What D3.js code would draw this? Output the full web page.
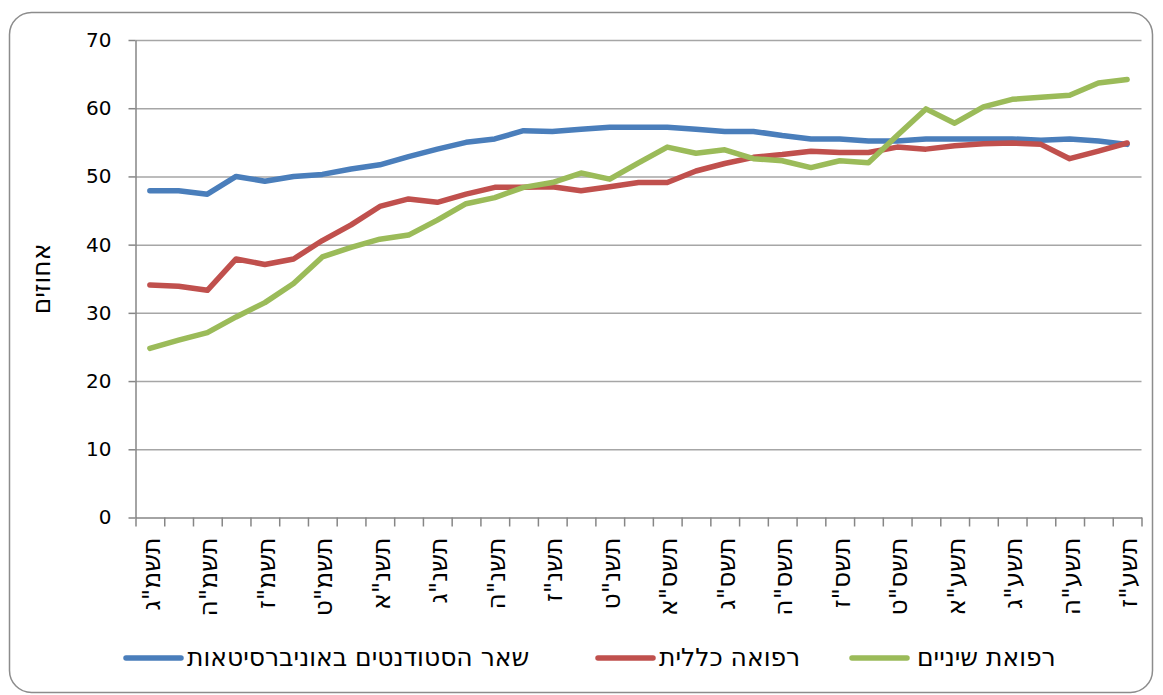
<!DOCTYPE html>
<html>
<head>
<meta charset="utf-8">
<script src="https://cdnjs.cloudflare.com/ajax/libs/d3/7.8.5/d3.min.js"></script>
<style>
  body { margin: 0; background: #fff; }
  svg { display: block; font-family: "DejaVu Sans", sans-serif; }
  .axis path, .axis line { stroke: #868686; stroke-width: 1.5; }
  .grid line { stroke: #A6A6A6; stroke-width: 1.5; }
  .grid path { display: none; }
</style>
</head>
<body>
<div id="chart"></div>
<script>
// school years (Hebrew calendar), first to last
var years = ['תשמ"ג','תשמ"ד','תשמ"ה','תשמ"ו','תשמ"ז','תשמ"ח','תשמ"ט','תש"ן','תשנ"א','תשנ"ב',
  'תשנ"ג','תשנ"ד','תשנ"ה','תשנ"ו','תשנ"ז','תשנ"ח','תשנ"ט','תש"ס','תשס"א','תשס"ב',
  'תשס"ג','תשס"ד','תשס"ה','תשס"ו','תשס"ז','תשס"ח','תשס"ט','תש"ע','תשע"א','תשע"ב',
  'תשע"ג','תשע"ד','תשע"ה','תשע"ו','תשע"ז'];

var otherStudents = [47.9, 47.9, 47.4, 50.0, 49.3, 50.0, 50.3, 51.1, 51.7, 52.9,
  54.0, 55.0, 55.5, 56.7, 56.6, 56.9, 57.2, 57.2, 57.2, 56.9,
  56.6, 56.6, 56.0, 55.5, 55.5, 55.2, 55.2, 55.5, 55.5, 55.5,
  55.5, 55.3, 55.5, 55.2, 54.7];
var medicine = [34.1, 33.9, 33.3, 37.9, 37.1, 37.9, 40.6, 42.9, 45.6, 46.7,
  46.2, 47.4, 48.4, 48.4, 48.5, 47.9, 48.5, 49.1, 49.1, 50.8,
  51.9, 52.8, 53.2, 53.7, 53.5, 53.5, 54.3, 54.0, 54.5, 54.8,
  54.9, 54.7, 52.6, 53.7, 54.9];
var dentistry = [24.8, 26.0, 27.1, 29.4, 31.5, 34.3, 38.2, 39.6, 40.8, 41.4,
  43.6, 46.0, 46.9, 48.4, 49.1, 50.5, 49.6, 52.0, 54.3, 53.4,
  53.9, 52.6, 52.3, 51.3, 52.3, 52.0, 56.0, 59.9, 57.8, 60.2,
  61.3, 61.6, 61.9, 63.7, 64.2];

var seriesNames = ['שאר הסטודנטים באוניברסיטאות', 'רפואה כללית', 'רפואת שיניים'];
var seriesColors = ['#4A7EBB', '#C0504D', '#9BBB59'];
var yTicks = [0, 10, 20, 30, 40, 50, 60, 70];
var yTitle = 'אחוזים';

(function() {
  var series = [otherStudents, medicine, dentistry].map(function(v, i) {
    return { name: seriesNames[i], color: seriesColors[i], values: v };
  });

  var width = 1163, height = 695;
  var margin = { left: 135.5, right: 1141.5, top: 40, bottom: 517.5 };
  var hebSize = '25px';

  var svg = d3.select('#chart').append('svg')
    .attr('width', width)
    .attr('height', height);

  // outer frame
  svg.append('rect')
    .attr('x', 9.5).attr('y', 12.5)
    .attr('width', 1143).attr('height', 680)
    .attr('rx', 22).attr('ry', 22)
    .attr('fill', '#fff')
    .attr('stroke', '#8C8C8C')
    .attr('stroke-width', 1.5);

  var x = d3.scaleBand().domain(years).range([margin.left, margin.right]).padding(0);
  var xTick = d3.scaleLinear().domain([0, years.length]).range([margin.left, margin.right]);
  var y = d3.scaleLinear().domain([0, 70]).range([margin.bottom, margin.top]);

  // gridlines
  svg.append('g')
    .attr('class', 'grid')
    .attr('transform', 'translate(' + margin.left + ',0)')
    .call(d3.axisLeft(y).tickValues(yTicks.slice(1)).tickSize(-(margin.right - margin.left)).tickFormat(''));

  // y axis
  var yAxis = svg.append('g')
    .attr('class', 'axis')
    .attr('transform', 'translate(' + margin.left + ',0)')
    .call(d3.axisLeft(y).tickValues(yTicks).tickSize(7).tickPadding(17).tickSizeOuter(0));
  yAxis.selectAll('text')
    .style('font-size', '20px')
    .attr('font-family', '"DejaVu Sans", sans-serif')
    .attr('fill', '#000');

  // x axis: tick marks between categories
  svg.append('g')
    .attr('class', 'axis')
    .attr('transform', 'translate(0,' + margin.bottom + ')')
    .call(d3.axisBottom(xTick).tickValues(d3.range(years.length + 1)).tickSize(9).tickSizeOuter(0).tickFormat(''));

  // x labels, every second year, rotated
  var xLabels = svg.append('g')
    .attr('transform', 'translate(0,' + margin.bottom + ')')
    .call(d3.axisBottom(x).tickValues(years.filter(function(d, i) { return i % 2 === 0; })).tickSize(0));
  xLabels.select('.domain').remove();
  xLabels.selectAll('text')
    .style('font-size', hebSize)
    .attr('font-family', '"DejaVu Sans", sans-serif')
    .attr('fill', '#000')
    .attr('text-anchor', 'end')
    .attr('transform', 'rotate(-90)')
    .attr('x', -20)
    .attr('y', 0)
    .attr('dy', '0.4em');

  // y title
  svg.append('text')
    .attr('transform', 'translate(42,279) rotate(-90)')
    .attr('text-anchor', 'middle')
    .attr('dy', '0.3em')
    .style('font-size', hebSize)
    .text(yTitle);

  // lines
  var line = d3.line()
    .x(function(d, i) { return x(years[i]) + x.bandwidth() / 2; })
    .y(function(d) { return y(d); });

  svg.selectAll('.series')
    .data(series)
    .enter().append('path')
    .attr('class', 'series')
    .attr('d', function(d) { return line(d.values); })
    .attr('fill', 'none')
    .attr('stroke', function(d) { return d.color; })
    .attr('stroke-width', 5.5)
    .attr('stroke-linejoin', 'round')
    .attr('stroke-linecap', 'round');

  // legend
  var legendX = [126, 598, 852];
  var legend = svg.selectAll('.legend')
    .data(series)
    .enter().append('g')
    .attr('class', 'legend')
    .attr('transform', function(d, i) { return 'translate(' + legendX[i] + ',658)'; });
  legend.append('line')
    .attr('x1', 0).attr('x2', 55)
    .attr('stroke', function(d) { return d.color; })
    .attr('stroke-width', 5.5)
    .attr('stroke-linecap', 'round');
  legend.append('text')
    .attr('x', function(d, i) { return i === 2 ? 65 : 61; })
    .attr('dy', '0.33em')
    .style('font-size', hebSize)
    .text(function(d) { return d.name; });
})();
</script>
</body>
</html>
